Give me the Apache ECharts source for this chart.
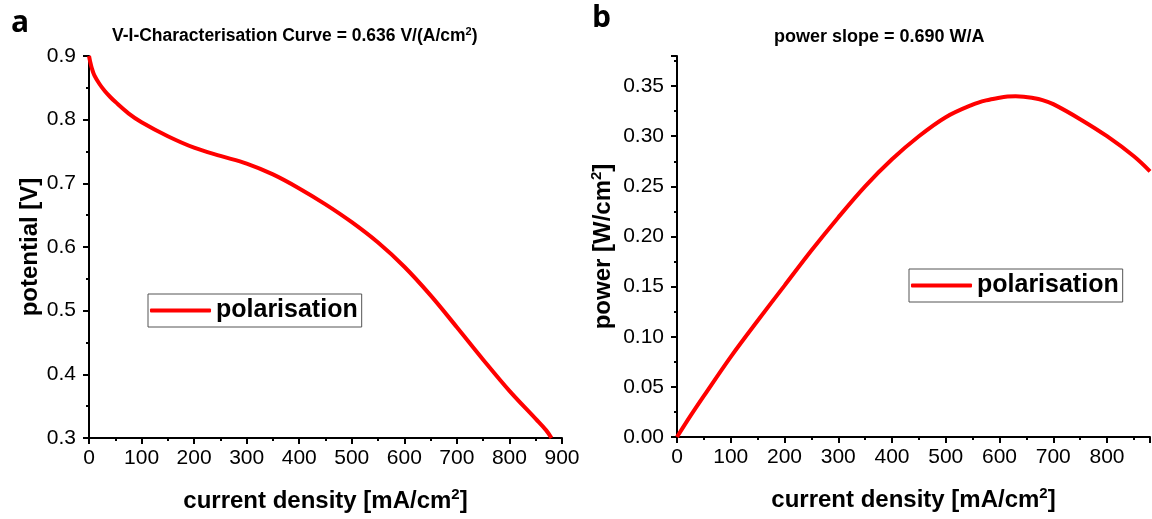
<!DOCTYPE html>
<html>
<head>
<meta charset="utf-8">
<script src="https://cdn.jsdelivr.net/npm/echarts@6/dist/echarts.min.js"></script>
<style>
  html, body { margin: 0; padding: 0; background: #fff; }
  #chart { width: 1152px; height: 519px; }
</style>
</head>
<body>
<div id="chart"></div>
<script>
// Polarisation curve: current density [mA/cm²] vs cell potential [V]
const currentV = [0, 2, 5, 10, 20, 30, 40, 50, 75, 100, 150, 200, 250, 300, 350, 400, 450, 500, 550, 600, 650, 700, 750, 800, 850, 870, 880];
const potential = [0.900, 0.892, 0.882, 0.870, 0.856, 0.845, 0.836, 0.828, 0.810, 0.796, 0.774, 0.756, 0.743, 0.731, 0.714, 0.692, 0.667, 0.639, 0.607, 0.569, 0.524, 0.474, 0.423, 0.374, 0.330, 0.312, 0.300];

// Power density curve: current density [mA/cm²] vs power [W/cm²]
const currentP = [0, 25, 50, 100, 150, 200, 250, 300, 350, 400, 450, 500, 550, 575, 600, 615, 630, 645, 660, 680, 700, 750, 800, 850, 880];
const power = [0.000, 0.021, 0.041, 0.080, 0.116, 0.151, 0.186, 0.219, 0.250, 0.277, 0.300, 0.319, 0.3315, 0.3357, 0.3384, 0.3395, 0.3398, 0.3394, 0.3383, 0.3360, 0.3320, 0.317, 0.300, 0.280, 0.265];

const xTicksA = [0, 100, 200, 300, 400, 500, 600, 700, 800, 900];
const yTicksA = [0.3, 0.4, 0.5, 0.6, 0.7, 0.8, 0.9];
const xTicksB = [0, 100, 200, 300, 400, 500, 600, 700, 800];
const yTicksB = [0.00, 0.05, 0.10, 0.15, 0.20, 0.25, 0.30, 0.35];

const seriesName = 'polarisation';
const titleA = 'V-I-Characterisation Curve = 0.636 V/(A/cm{sup|2})';
const titleB = 'power slope = 0.690 W/A';
const xName = 'current density [mA/cm{sup|2}]';
const yNameA = 'potential [V]';
const yNameB = 'power [W/cm{sup|2}]';

const FONT = '"Liberation Sans", Arial, sans-serif';
const RED = '#ff0000';

const chart = echarts.init(document.getElementById('chart'), null, { renderer: 'canvas' });

function pairs(xs, ys) { return xs.map((x, i) => [x, ys[i]]); }

const nameStyle = {
  fontFamily: FONT, fontWeight: 'bold', fontSize: 24, color: '#000',
  rich: { sup: { fontFamily: FONT, fontWeight: 'bold', fontSize: 15, padding: [0, 0, 13, 0], color: '#000' } }
};

function xAxis(gridIndex, max, ticks) {
  return {
    type: 'value', gridIndex, min: 0, max, interval: 100,
    name: xName, nameLocation: 'middle', nameGap: 49,
    nameTextStyle: nameStyle,
    axisLine: { show: true, onZero: false, lineStyle: { color: '#000', width: 2 } },
    axisTick: { show: true, inside: false, length: 6, lineStyle: { color: '#000', width: 2 } },
    minorTick: { show: true, splitNumber: 2, length: 3, lineStyle: { color: '#000', width: 2 } },
    splitLine: { show: false },
    axisLabel: {
      fontFamily: FONT, fontSize: 21, color: '#000', margin: 10,
      showMaxLabel: ticks[ticks.length - 1] === max,
      formatter: v => (ticks.indexOf(v) >= 0 ? String(v) : '')
    }
  };
}

function yAxis(gridIndex, min, max, interval, ticks, digits, name, gap) {
  return {
    type: 'value', gridIndex, min, max, interval,
    name, nameLocation: 'middle', nameGap: gap, nameRotate: 90,
    nameTextStyle: nameStyle,
    axisLine: { show: true, onZero: false, lineStyle: { color: '#000', width: 2 } },
    axisTick: { show: true, inside: false, length: 6, lineStyle: { color: '#000', width: 2 } },
    minorTick: { show: true, splitNumber: 2, length: 3, lineStyle: { color: '#000', width: 2 } },
    splitLine: { show: false },
    axisLabel: {
      fontFamily: FONT, fontSize: 21, color: '#000', margin: 13,
      showMaxLabel: Math.abs(ticks[ticks.length - 1] - max) < 1e-9,
      formatter: v => {
        const hit = ticks.some(t => Math.abs(t - v) < 1e-9);
        return hit ? v.toFixed(digits) : '';
      }
    }
  };
}

const legendText = { fontFamily: FONT, fontWeight: 'bold', fontSize: 25, color: '#000' };

const option = {
  animation: false,
  backgroundColor: '#fff',
  title: [
    { text: 'a', left: 6, top: 3, textStyle: { fontFamily: '"Open Sans", sans-serif', fontWeight: 'bold', fontSize: 30, color: '#000' } },
    { text: 'b', left: 587, top: -2, textStyle: { fontFamily: '"Open Sans", sans-serif', fontWeight: 'bold', fontSize: 30, color: '#000' } },
    {
      text: titleA, left: 107, top: 21,
      textStyle: {
        fontFamily: FONT, fontWeight: 'bold', fontSize: 17.5, color: '#000',
        rich: { sup: { fontFamily: FONT, fontWeight: 'bold', fontSize: 11, padding: [0, 0, 9, 0], color: '#000' } }
      }
    },
    { text: titleB, left: 769, top: 23, textStyle: { fontFamily: FONT, fontWeight: 'bold', fontSize: 18, color: '#000' } }
  ],
  legend: [
    {
      data: [seriesName], left: 148, top: 294,
      orient: 'horizontal', itemWidth: 61, itemHeight: 4, itemGap: 0,
      padding: [4, 4, 4, 2], borderColor: '#555', borderWidth: 1, backgroundColor: '#fff',
      icon: 'roundRect',
      textStyle: legendText
    },
    {
      data: [seriesName + ' '], left: 909, top: 269,
      orient: 'horizontal', itemWidth: 61, itemHeight: 4, itemGap: 0,
      padding: [4, 4, 4, 2], borderColor: '#555', borderWidth: 1, backgroundColor: '#fff',
      icon: 'roundRect',
      formatter: n => n.trim(),
      textStyle: legendText
    }
  ],
  grid: [
    { left: 89, top: 56, width: 473, height: 382, containLabel: false },
    { left: 677, top: 56, width: 473, height: 381, containLabel: false }
  ],
  xAxis: [
    xAxis(0, 900, xTicksA),
    xAxis(1, 880, xTicksB)
  ],
  yAxis: [
    yAxis(0, 0.3, 0.9, 0.1, yTicksA, 1, yNameA, 47),
    yAxis(1, 0, 0.38, 0.05, yTicksB, 2, yNameB, 60)
  ],
  series: [
    {
      name: seriesName, type: 'line', xAxisIndex: 0, yAxisIndex: 0,
      data: pairs(currentV, potential), smooth: 0.35, showSymbol: false,
      lineStyle: { color: RED, width: 4 }, itemStyle: { color: RED }
    },
    {
      name: seriesName + ' ', type: 'line', xAxisIndex: 1, yAxisIndex: 1,
      data: pairs(currentP, power), smooth: 0.35, showSymbol: false,
      lineStyle: { color: RED, width: 4 }, itemStyle: { color: RED }
    }
  ]
};

chart.setOption(option);
</script>
</body>
</html>
